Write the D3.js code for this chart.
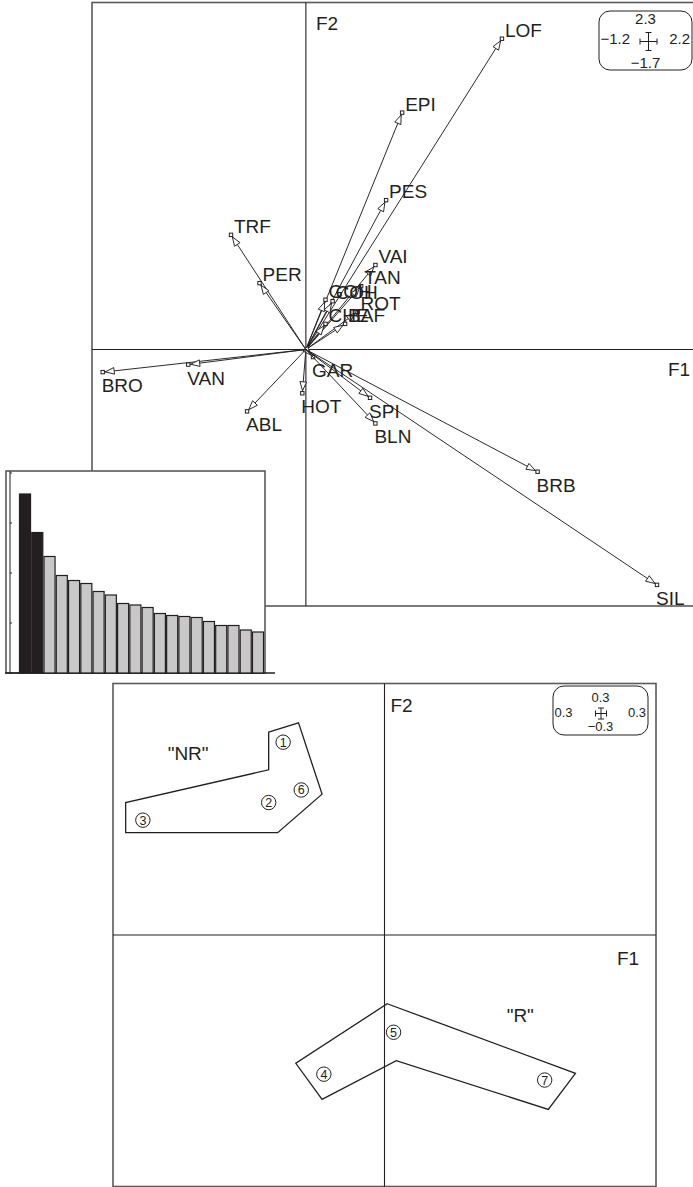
<!DOCTYPE html>
<html>
<head>
<meta charset="utf-8">
<script src="https://cdn.jsdelivr.net/npm/d3@7/dist/d3.min.js"></script>
<style>
  body { margin: 0; background: #fff; }
  svg text { font-family: "Liberation Sans", Arial, sans-serif; fill: #231f20; }
</style>
</head>
<body>
<svg id="chart" width="693" height="1187"></svg>
<script>
"use strict";

// == variables on the F1 x F2 plane ==
var varNames = ["LOF", "EPI", "PES", "TRF", "PER", "VAI", "TAN", "GOH", "COH", "ROT", "CHE",
                "BAF", "GAR", "HOT", "SPI", "BLN", "BRB", "SIL", "BRO", "VAN", "ABL"];
var varF1 = [1.10, 0.54, 0.45, -0.42, -0.26, 0.39, 0.31, 0.11, 0.15, 0.29, 0.11,
             0.22, 0.04, -0.02, 0.36, 0.39, 1.30, 1.97, -1.14, -0.66, -0.33];
var varF2 = [2.06, 1.57, 0.99, 0.76, 0.44, 0.56, 0.42, 0.33, 0.32, 0.25, 0.17,
             0.17, -0.05, -0.29, -0.32, -0.49, -0.81, -1.56, -0.15, -0.10, -0.41];
var topF1Range = [-1.2, 2.2];
var topF2Range = [-1.7, 2.3];
var topBoxLabels = ["2.3", "\u22121.2", "2.2", "\u22121.7"];   // top, left, right, bottom

// == eigenvalues (inset) ==
var eigenValues = [3.58, 2.81, 2.33, 1.95, 1.85, 1.79, 1.63, 1.56, 1.39, 1.36,
                   1.31, 1.19, 1.15, 1.13, 1.11, 1.03, 0.95, 0.95, 0.86, 0.82];
var keptAxes = 2;
var eigenTicks = [0, 1, 2, 3, 4];

// == sites on the F1 x F2 plane ==
var siteIds = ["1", "2", "3", "4", "5", "6", "7"];
var siteF1 = [-0.112, -0.128, -0.267, -0.067, 0.010, -0.092, 0.177];
var siteF2 = [0.230, 0.158, 0.137, -0.166, -0.116, 0.173, -0.173];
var groupNames = ["\"NR\"", "\"R\""];
var groupLabelF1 = [-0.217, 0.150];
var groupLabelF2 = [0.217, -0.096];
var groupOutlineNR = [[-0.128, 0.242], [-0.095, 0.253], [-0.069, 0.168], [-0.118, 0.122],
                      [-0.286, 0.122], [-0.286, 0.158], [-0.128, 0.197]];
var groupOutlineR = [[0.003, -0.082], [0.211, -0.165], [0.181, -0.208], [0.013, -0.150],
                     [-0.069, -0.196], [-0.098, -0.153]];
var lowF1Range = [-0.3, 0.3];
var lowF2Range = [-0.3, 0.3];
var lowBoxLabels = ["0.3", "0.3", "0.3", "\u22120.3"];

var ink = "#231f20", frameCol = "#5a5a5a";
var svg = d3.select("#chart");

// helper: ade4 like scale box (rounded rect, 4 labels, cross)
function scaleBox(g, box, labels, cross, fs) {
  g.append("rect")
   .attr("x", box.x).attr("y", box.y).attr("width", box.w).attr("height", box.h)
   .attr("rx", 11).attr("ry", 11)
   .attr("fill", "#fff").attr("stroke", ink).attr("stroke-width", 1);
  var cx = box.x + box.w / 2;
  g.append("text").attr("x", cx).attr("y", box.t[0]).attr("text-anchor", "middle")
   .style("font-size", fs + "px").text(labels[0]);
  g.append("text").attr("x", box.x + 1.5).attr("y", box.t[1])
   .style("font-size", fs + "px").text(labels[1]);
  g.append("text").attr("x", box.x + box.w - 2).attr("y", box.t[1]).attr("text-anchor", "end")
   .style("font-size", fs + "px").text(labels[2]);
  g.append("text").attr("x", cx).attr("y", box.t[2]).attr("text-anchor", "middle")
   .style("font-size", fs + "px").text(labels[3]);
  var p = d3.path(), hx = cross.w / 2, hy = cross.h / 2, c = 3;
  p.moveTo(cross.x, cross.y - hy); p.lineTo(cross.x, cross.y + hy);
  p.moveTo(cross.x - c, cross.y - hy); p.lineTo(cross.x + c, cross.y - hy);
  p.moveTo(cross.x - c, cross.y + hy); p.lineTo(cross.x + c, cross.y + hy);
  p.moveTo(cross.x - hx, cross.y); p.lineTo(cross.x + hx, cross.y);
  p.moveTo(cross.x - hx, cross.y - c); p.lineTo(cross.x - hx, cross.y + c);
  p.moveTo(cross.x + hx, cross.y - c); p.lineTo(cross.x + hx, cross.y + c);
  g.append("path").attr("d", p.toString()).attr("fill", "none")
   .attr("stroke", ink).attr("stroke-width", 1);
}

// ================= top panel: variables =================
var xTop = d3.scaleLinear().domain(topF1Range).range([92, 698]);
var yTop = d3.scaleLinear().domain(topF2Range).range([606, 2.5]);
var topPanel = svg.append("g");

topPanel.append("rect")
   .attr("x", xTop.range()[0]).attr("y", yTop.range()[1])
   .attr("width", xTop.range()[1] - xTop.range()[0])
   .attr("height", yTop.range()[0] - yTop.range()[1])
   .attr("fill", "none").attr("stroke", frameCol).attr("stroke-width", 1.6);

topPanel.append("line")
   .attr("x1", xTop.range()[0]).attr("x2", xTop.range()[1])
   .attr("y1", yTop(0)).attr("y2", yTop(0))
   .attr("stroke", ink).attr("stroke-width", 1.1);
topPanel.append("line")
   .attr("x1", xTop(0)).attr("x2", xTop(0))
   .attr("y1", yTop.range()[1]).attr("y2", yTop.range()[0])
   .attr("stroke", ink).attr("stroke-width", 1.1);

topPanel.append("text").attr("x", xTop(0) + 10).attr("y", 30)
   .style("font-size", "19px").text("F2");
topPanel.append("text").attr("x", 668).attr("y", yTop(0) + 26)
   .style("font-size", "19px").text("F1");

var vars = varNames.map(function (n, i) { return { name: n, f1: varF1[i], f2: varF2[i] }; });

var arrows = topPanel.selectAll("g.arrow")
   .data(vars)
   .enter()
   .append("g")
   .attr("class", "arrow");

arrows.append("line")
   .attr("x1", xTop(0)).attr("y1", yTop(0))
   .attr("x2", function (d) { return xTop(d.f1); })
   .attr("y2", function (d) { return yTop(d.f2); })
   .attr("stroke", ink).attr("stroke-width", 0.95);

// open arrow head just before the end point
arrows.append("path")
   .attr("d", function (d) {
     var ox = xTop(0), oy = yTop(0), ex = xTop(d.f1), ey = yTop(d.f2);
     var len = Math.hypot(ex - ox, ey - oy), ux = (ex - ox) / len, uy = (ey - oy) / len;
     var tx = ex - 2.5 * ux, ty = ey - 2.5 * uy;
     var bx = tx - 9 * ux, by = ty - 9 * uy;
     return "M" + tx + "," + ty + "L" + (bx - 3.3 * uy) + "," + (by + 3.3 * ux) +
            "L" + (bx + 3.3 * uy) + "," + (by - 3.3 * ux) + "Z";
   })
   .attr("fill", "#fff").attr("stroke", ink).attr("stroke-width", 0.95);

arrows.append("rect")
   .attr("x", function (d) { return xTop(d.f1) - 1.7; })
   .attr("y", function (d) { return yTop(d.f2) - 1.7; })
   .attr("width", 3.4).attr("height", 3.4)
   .attr("fill", "#fff").attr("stroke", ink).attr("stroke-width", 1);

arrows.append("text")
   .attr("x", function (d) { return xTop(d.f1) + (d.f2 > 0 ? 3 : -1); })
   .attr("y", function (d) { return yTop(d.f2) + (d.f2 > 0 ? -2 : 20); })
   .style("font-size", "19px")
   .text(function (d) { return d.name; });

scaleBox(topPanel, { x: 599, y: 11, w: 93, h: 59, t: [24, 43.5, 68] }, topBoxLabels,
         { x: 648.5, y: 41.5, w: 17, h: 18 }, 15);

// ================= inset: eigenvalues =================
var inset = svg.append("g");
var xEig = d3.scaleBand().domain(d3.range(eigenValues.length))
             .range([19.5, 263.5]).paddingInner(0.1).paddingOuter(0);
var yEig = d3.scaleLinear().domain([0, 4]).range([673, 473]);

inset.append("rect")
   .attr("x", 6).attr("y", 471).attr("width", 259).attr("height", 202)
   .attr("fill", "#fff").attr("stroke", frameCol).attr("stroke-width", 1.6);
inset.append("line")
   .attr("x1", 5).attr("x2", 275).attr("y1", yEig(0)).attr("y2", yEig(0))
   .attr("stroke", ink).attr("stroke-width", 1.5);
inset.append("line")
   .attr("x1", 10).attr("x2", 10).attr("y1", 471).attr("y2", yEig(0))
   .attr("stroke", ink).attr("stroke-width", 1);
inset.selectAll("line.tick")
   .data(eigenTicks)
   .enter()
   .append("line")
   .attr("class", "tick")
   .attr("x1", 10).attr("x2", 12)
   .attr("y1", function (d) { return yEig(d); })
   .attr("y2", function (d) { return yEig(d); })
   .attr("stroke", ink).attr("stroke-width", 1);

inset.selectAll("rect.bar")
   .data(eigenValues)
   .enter()
   .append("rect")
   .attr("class", "bar")
   .attr("x", function (d, i) { return xEig(i); })
   .attr("y", function (d) { return yEig(d); })
   .attr("width", xEig.bandwidth())
   .attr("height", function (d) { return yEig(0) - yEig(d); })
   .attr("fill", function (d, i) { return i < keptAxes ? ink : "#c8c8c8"; })
   .attr("stroke", ink).attr("stroke-width", 1.2);

// ================= bottom panel: sites =================
var xLow = d3.scaleLinear().domain(lowF1Range).range([113, 656]);
var yLow = d3.scaleLinear().domain(lowF2Range).range([1186.5, 683.5]);
var low = svg.append("g");

low.append("rect")
   .attr("x", xLow.range()[0]).attr("y", yLow.range()[1])
   .attr("width", xLow.range()[1] - xLow.range()[0])
   .attr("height", yLow.range()[0] - yLow.range()[1])
   .attr("fill", "none").attr("stroke", frameCol).attr("stroke-width", 1.6);
low.append("line")
   .attr("x1", xLow.range()[0]).attr("x2", xLow.range()[1])
   .attr("y1", yLow(0)).attr("y2", yLow(0))
   .attr("stroke", ink).attr("stroke-width", 1.1);
low.append("line")
   .attr("x1", xLow(0)).attr("x2", xLow(0))
   .attr("y1", yLow.range()[1]).attr("y2", yLow.range()[0])
   .attr("stroke", ink).attr("stroke-width", 1.1);

low.append("text").attr("x", xLow(0) + 6).attr("y", 712)
   .style("font-size", "19px").text("F2");
low.append("text").attr("x", 617).attr("y", yLow(0) + 30)
   .style("font-size", "19px").text("F1");

var outline = d3.line()
   .x(function (d) { return xLow(d[0]); })
   .y(function (d) { return yLow(d[1]); });

low.selectAll("path.group")
   .data([groupOutlineNR, groupOutlineR])
   .enter()
   .append("path")
   .attr("class", "group")
   .attr("d", function (d) { return outline(d) + "Z"; })
   .attr("fill", "none").attr("stroke", ink).attr("stroke-width", 1.3);

low.selectAll("text.group")
   .data(groupNames)
   .enter()
   .append("text")
   .attr("class", "group")
   .attr("x", function (d, i) { return xLow(groupLabelF1[i]); })
   .attr("y", function (d, i) { return yLow(groupLabelF2[i]); })
   .attr("text-anchor", "middle").attr("dy", "0.35em")
   .style("font-size", "19px")
   .text(function (d) { return d; });

var sites = low.selectAll("g.site")
   .data(siteIds)
   .enter()
   .append("g")
   .attr("class", "site")
   .attr("transform", function (d, i) {
     return "translate(" + xLow(siteF1[i]) + "," + yLow(siteF2[i]) + ")";
   });
sites.append("circle")
   .attr("r", 7.2)
   .attr("fill", "none").attr("stroke", ink).attr("stroke-width", 1);
sites.append("text")
   .attr("text-anchor", "middle").attr("dy", "0.36em")
   .style("font-size", "12.5px")
   .text(function (d) { return d; });

scaleBox(low, { x: 553, y: 686, w: 95, h: 49, t: [701.5, 717, 731] }, lowBoxLabels,
         { x: 601, y: 713.5, w: 11, h: 11 }, 13);
</script>
</body>
</html>
